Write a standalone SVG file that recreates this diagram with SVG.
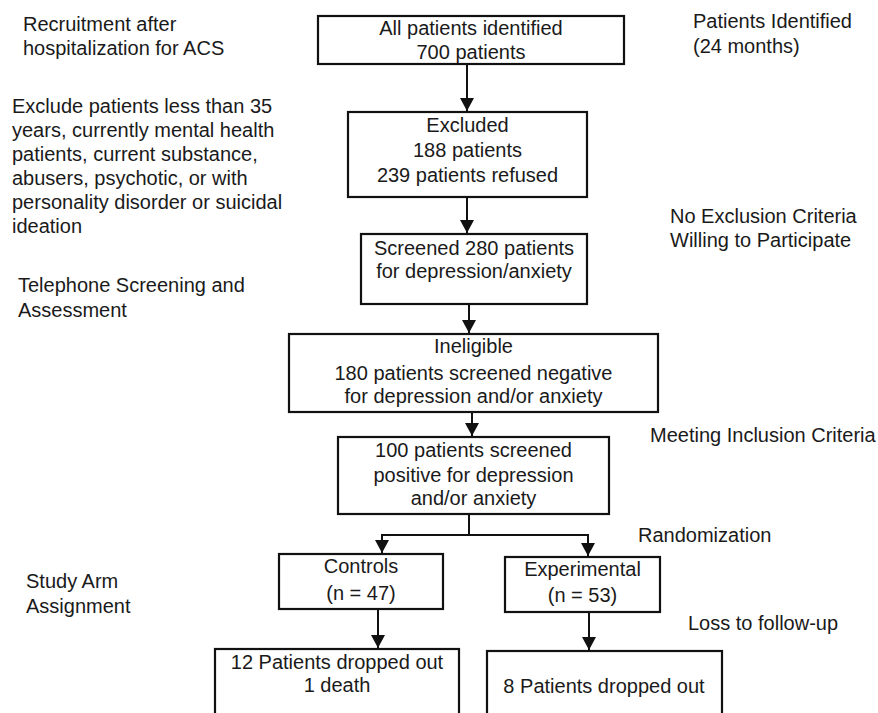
<svg xmlns="http://www.w3.org/2000/svg" width="878" height="713" viewBox="0 0 878 713">
<style>
  .box { fill: #ffffff; stroke: #111111; stroke-width: 2.2; }
  .t { font-family: "Liberation Sans", Arial, sans-serif; font-size: 20px; fill: #1a1a1a; }
  .c { text-anchor: middle; }
  .conn { stroke: #111111; stroke-width: 2; fill: none; }
</style>
<defs>
  <marker id="arr" markerUnits="userSpaceOnUse" markerWidth="14" markerHeight="14" refX="13" refY="7" orient="auto">
    <path d="M0,0 L13,7 L0,14 z" fill="#111111"/>
  </marker>
</defs>
<rect width="878" height="713" fill="#ffffff"/>

<g id="labels">
  <text class="t" x="23" y="31">Recruitment after</text>
  <text class="t" x="23" y="55">hospitalization for ACS</text>
  <text class="t" x="12" y="113">Exclude patients less than 35</text>
  <text class="t" x="12" y="137">years, currently mental health</text>
  <text class="t" x="12" y="161">patients, current substance,</text>
  <text class="t" x="12" y="185">abusers, psychotic, or with</text>
  <text class="t" x="12" y="209">personality disorder or suicidal</text>
  <text class="t" x="12" y="233">ideation</text>
  <text class="t" x="18" y="292">Telephone Screening and</text>
  <text class="t" x="18" y="317">Assessment</text>
  <text class="t" x="26" y="588">Study Arm</text>
  <text class="t" x="26" y="613">Assignment</text>
  <text class="t" x="693" y="28">Patients Identified</text>
  <text class="t" x="693" y="53">(24 months)</text>
  <text class="t" x="670" y="223">No Exclusion Criteria</text>
  <text class="t" x="670" y="247">Willing to Participate</text>
  <text class="t" x="650" y="442">Meeting Inclusion Criteria</text>
  <text class="t" x="638" y="542">Randomization</text>
  <text class="t" x="688" y="630">Loss to follow-up</text>
</g>

<g id="connectors">
  <line class="conn" x1="467" y1="64" x2="467" y2="111" marker-end="url(#arr)"/>
  <line class="conn" x1="467" y1="197" x2="467" y2="233" marker-end="url(#arr)"/>
  <line class="conn" x1="469" y1="304" x2="469" y2="333" marker-end="url(#arr)"/>
  <line class="conn" x1="472" y1="412" x2="472" y2="436" marker-end="url(#arr)"/>
  <polyline class="conn" points="469,514 469,535"/>
  <polyline class="conn" points="382,535 588,535"/>
  <line class="conn" x1="382" y1="534" x2="382" y2="553" marker-end="url(#arr)"/>
  <line class="conn" x1="588" y1="534" x2="588" y2="556" marker-end="url(#arr)"/>
  <line class="conn" x1="378" y1="609" x2="378" y2="648" marker-end="url(#arr)"/>
  <line class="conn" x1="589" y1="612" x2="589" y2="650" marker-end="url(#arr)"/>
</g>

<g id="n1">
  <rect class="box" x="318" y="16" width="306" height="48"/>
  <text class="t c" x="471" y="35">All patients identified</text>
  <text class="t c" x="471" y="59">700 patients</text>
</g>
<g id="n2">
  <rect class="box" x="348" y="112" width="239" height="85"/>
  <text class="t c" x="467.5" y="132">Excluded</text>
  <text class="t c" x="467.5" y="157">188 patients</text>
  <text class="t c" x="467.5" y="182">239 patients refused</text>
</g>
<g id="n3">
  <rect class="box" x="361" y="234" width="226" height="70"/>
  <text class="t c" x="474" y="255">Screened 280 patients</text>
  <text class="t c" x="474" y="278">for depression/anxiety</text>
</g>
<g id="n4">
  <rect class="box" x="289" y="334" width="369" height="78"/>
  <text class="t c" x="473.5" y="353">Ineligible</text>
  <text class="t c" x="473.5" y="380">180 patients screened negative</text>
  <text class="t c" x="473.5" y="403">for depression and/or anxiety</text>
</g>
<g id="n5">
  <rect class="box" x="338" y="437" width="271" height="77"/>
  <text class="t c" x="473.5" y="457">100 patients screened</text>
  <text class="t c" x="473.5" y="482">positive for depression</text>
  <text class="t c" x="473.5" y="505">and/or anxiety</text>
</g>
<g id="n6">
  <rect class="box" x="279" y="554" width="164" height="55"/>
  <text class="t c" x="361" y="573">Controls</text>
  <text class="t c" x="361" y="600">(n = 47)</text>
</g>
<g id="n7">
  <rect class="box" x="505" y="557" width="155" height="55"/>
  <text class="t c" x="582.5" y="576">Experimental</text>
  <text class="t c" x="582.5" y="602">(n = 53)</text>
</g>
<g id="n8">
  <rect class="box" x="215" y="649" width="244" height="80"/>
  <text class="t c" x="337" y="669">12 Patients dropped out</text>
  <text class="t c" x="337" y="692">1 death</text>
</g>
<g id="n9">
  <rect class="box" x="487" y="651" width="235" height="80"/>
  <text class="t c" x="604" y="693">8 Patients dropped out</text>
</g>
</svg>
